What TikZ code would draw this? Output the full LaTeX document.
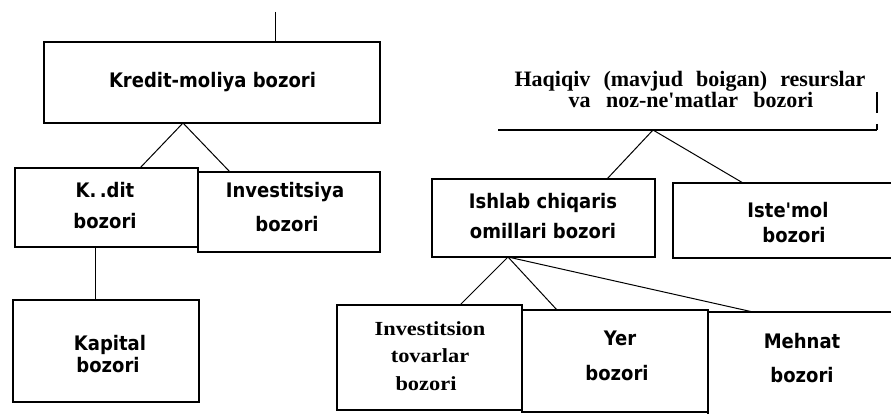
\documentclass[tikz,border=0pt]{standalone}
\usepackage{fontspec}
\setmainfont{Liberation Serif}
\newfontfamily\sansb[FakeStretch=0.9]{DejaVu Sans}
\newfontfamily\serifq{Liberation Serif}
\newfontfamily\serifw[FakeStretch=1.12]{Liberation Serif}
\begin{document}
\begin{tikzpicture}[x=1pt,y=-1pt,
  bx/.style 2 args={draw, line width=1.3pt, inner sep=0pt, minimum width=#1pt, minimum height=#2pt},
  sl/.style={anchor=base, inner sep=0pt, font=\sansb\bfseries\fontsize{20}{22}\selectfont},
  hl/.style={anchor=base, inner sep=0pt, font=\serifq\bfseries\fontsize{22}{24}\selectfont},
  il/.style={anchor=base, inner sep=0pt, font=\serifw\bfseries\fontsize{20}{22}\selectfont},
  conn/.style={line width=1pt}]
\useasboundingbox (0,0) rectangle (891,414);

% ---- left tree
\node[bx={336}{81}] (kmb) at (212,82.5) {};
\node[sl] (kmbt) at (212.5,88) {Kredit-moliya bozori};
\node[bx={183}{79}] (kred) at (106.5,207.5) {};
\node[sl] (kred1) at (105,197) {K.\,.dit};
\node[sl] (kred2) at (105,228) {bozori};
\node[bx={182}{80}] (inv) at (289,212) {};
\node[sl] (inv1) at (285,198) {Investitsiya};
\node[sl] (inv2) at (287,231) {bozori};
\node[bx={186}{102}] (kap) at (106,351) {};
\node[sl] (kap1) at (110,350) {Kapital};
\node[sl] (kap2) at (108,372) {bozori};

\coordinate (top0) at (275,12);
\coordinate (ka) at (183,123);
\coordinate (k1) at (140,168);
\coordinate (k2) at (230,172);
\coordinate (kc1) at (95,247);
\coordinate (kc2) at (95,300);
\draw[conn] (top0) -- (top0 |- kmb.north);
\draw[conn] (ka) -- (k1);
\draw[conn] (ka) -- (k2);
\draw[conn] (kc1) -- (kc2);

% ---- right tree
\node[hl] (haq1) at (690,87) {Haqiqiv\hspace{0.35em} (mavjud\hspace{0.35em} boigan)\hspace{0.35em} resurslar};
\node[hl] (haq2) at (691,108) {va\hspace{0.45em} noz-ne'matlar\hspace{0.45em} bozori};
\coordinate (hbl) at (498,130);
\coordinate (hbr) at (877,130);
\coordinate (hr1) at (877,92);
\coordinate (hr2) at (877,113);
\coordinate (hr3) at (877,124);
\draw[line width=1.3pt] (hbl) -- (hbr);
\draw[line width=1.3pt] (hr1) -- (hr2);
\draw[line width=1.3pt] (hr3) -- (hbr);

\node[bx={223}{78}] (ish) at (543.5,218) {};
\node[sl] (ish1) at (543,208) {Ishlab chiqaris};
\node[sl] (ish2) at (543,238) {omillari bozori};
\node[bx={227}{75}] (ist) at (786.5,220.5) {};
\node[sl] (ist1) at (788,217) {Iste'mol};
\node[sl] (ist2) at (794,242) {bozori};

\node[bx={185}{105}] (invt) at (429.5,357.5) {};
\node[il] (invt1) at (430,335) {Investitsion};
\node[il] (invt2) at (430,362) {tovarlar};
\node[il] (invt3) at (426,390) {bozori};
\node[bx={186}{102}] (yer) at (615,361) {};
\node[sl] (yer1) at (620,345) {Yer};
\node[sl] (yer2) at (617,380) {bozori};
\node[bx={192}{108}] (meh) at (804,366) {};
\node[sl] (meh1) at (802,348) {Mehnat};
\node[sl] (meh2) at (802,382) {bozori};

\coordinate (ha) at (653,130);
\coordinate (h1) at (607,179);
\coordinate (h2) at (743,183);
\draw[conn] (ha) -- (h1);
\draw[conn] (ha) -- (h2);
\coordinate (ia) at (508,257);
\coordinate (i1) at (460,305);
\coordinate (i2) at (557,310);
\coordinate (i3) at (753,312);
\draw[conn] (ia) -- (i1);
\draw[conn] (ia) -- (i2);
\draw[conn] (ia) -- (i3);
\end{tikzpicture}
\end{document}
